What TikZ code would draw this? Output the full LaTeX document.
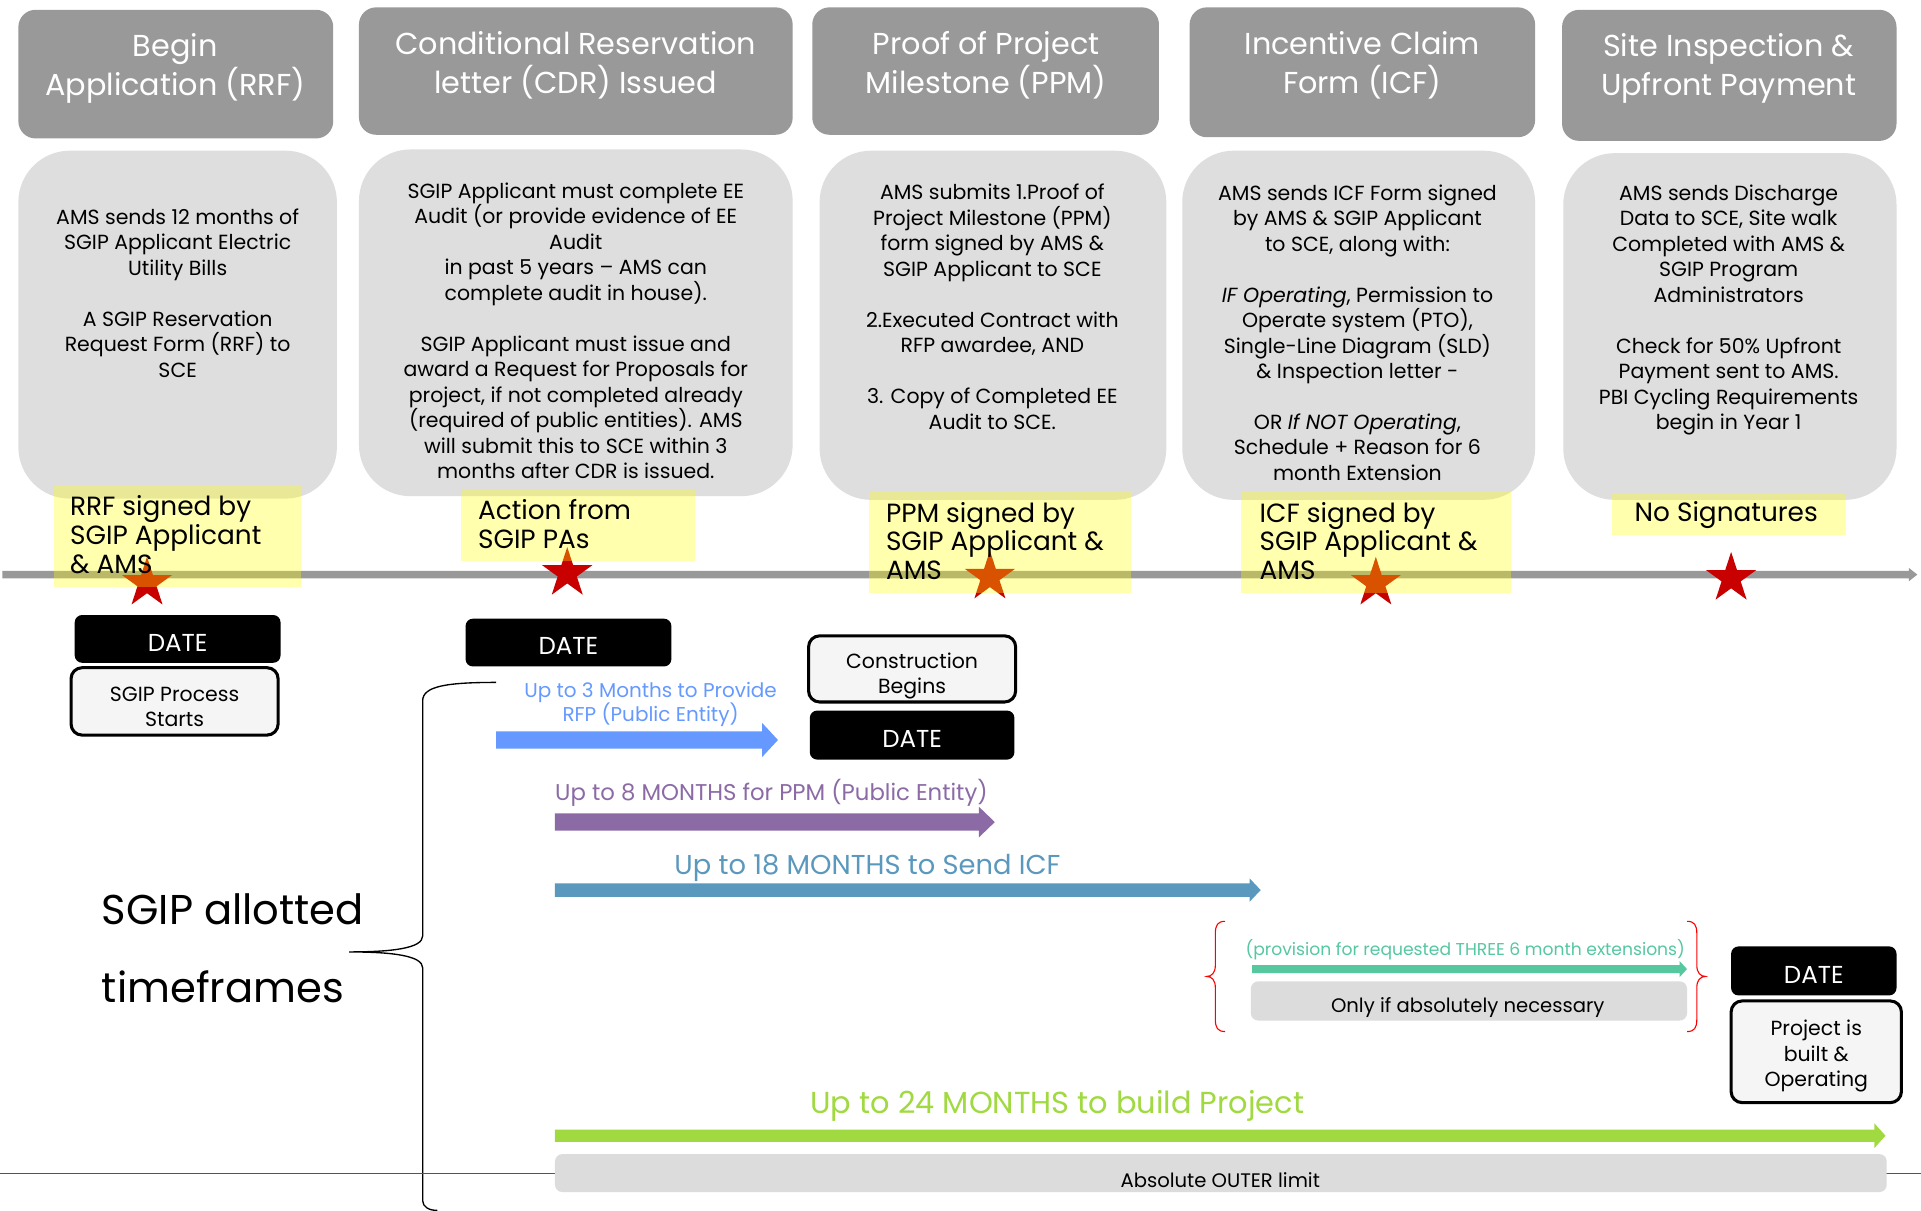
\documentclass[tikz,border=0pt]{standalone}
\usepackage{fontspec}
\setmainfont{Poppins}
\usetikzlibrary{shapes.geometric}
\definecolor{hdr}{HTML}{999999}
\definecolor{bodyg}{HTML}{DEDEDE}
\definecolor{ylw}{RGB}{255,255,0}
\definecolor{starred}{RGB}{200,0,0}
\definecolor{cblue}{HTML}{6699FF}
\definecolor{cpurple}{HTML}{8B6AA6}
\definecolor{csteel}{HTML}{5A98BD}
\definecolor{cteal}{HTML}{55C8A0}
\definecolor{cgreen}{HTML}{A0D940}
\definecolor{boxg}{HTML}{DCDCDC}
\definecolor{lineg}{HTML}{555555}
\newcommand{\barrow}[8]{%
  \fill[#2] (#3,#5-#6) coordinate (#1s) -- (#4-#8,#5-#6) -- (#4-#8,#5-#7) -- (#4,#5) coordinate (#1e) -- (#4-#8,#5+#7) -- (#4-#8,#5+#6) -- (#3,#5+#6) -- cycle;}
\begin{document}
\begin{tikzpicture}[x=1pt,y=-1pt,
  hdrbox/.style={fill=hdr, rounded corners=14pt, inner sep=0, draw=none},
  bodybox/.style={fill=bodyg, rounded corners=42pt, inner sep=0},
  hdrtxt/.style={text=white, font=\fontsize{24.7}{32}\selectfont, align=center, inner sep=0},
  bodytxt/.style={font=\fontsize{16.7}{20.8}\selectfont, align=center, inner sep=0},
  ylwbox/.style={fill=ylw, fill opacity=0.32, inner sep=0},
  yltxt/.style={font=\fontsize{21.5}{23.5}\selectfont, align=left, inner sep=0, anchor=west},
  redstar/.style={star, star points=5, star point ratio=2.618, fill=starred, minimum size=43pt, inner sep=0},
  datebox/.style={fill=black, rounded corners=6pt, text=white, font=\fontsize{20}{24}\selectfont, minimum width=168pt, minimum height=39pt, inner sep=0, text height=20pt, text depth=0pt},
  whitebox/.style={draw=black, line width=2.5pt, fill=white!96!black, rounded corners=9pt, inner sep=0},
  whitetxt/.style={font=\fontsize{16.7}{20.5}\selectfont, align=center, inner sep=0},
  graybox/.style={fill=boxg, rounded corners=6pt, inner sep=0},
  smalltxt/.style={font=\fontsize{16}{19}\selectfont, inner sep=0}
]
\useasboundingbox (0,0) rectangle (1568,988);
\fill[white] (0,0) rectangle (1568,988);

% headers
\node[hdrbox, minimum width=257pt, minimum height=105pt] (h1) at (143.5,60.5) {};
\node[hdrbox, minimum width=354pt, minimum height=104pt] (h2) at (470,58) {};
\node[hdrbox, minimum width=283pt, minimum height=104pt] (h3) at (804.5,58) {};
\node[hdrbox, minimum width=282pt, minimum height=106pt] (h4) at (1112,59) {};
\node[hdrbox, minimum width=273pt, minimum height=107pt] (h5) at (1411.5,61.5) {};
\node[hdrtxt] (h1t) at (143,56) {Begin\\Application (RRF)};
\node[hdrtxt] (h2t) at (470,53.5) {Conditional Reservation\\letter (CDR) Issued};
\node[hdrtxt] (h3t) at (805,53.5) {Proof of Project\\Milestone (PPM)};
\node[hdrtxt] (h4t) at (1112,53.5) {Incentive Claim\\Form (ICF)};
\node[hdrtxt] (h5t) at (1411,56) {Site Inspection \&\\Upfront Payment};

% body boxes
\node[bodybox, minimum width=260pt, minimum height=284pt] (b1) at (145,265) {};
\node[bodybox, minimum width=354pt, minimum height=283pt] (b2) at (470,263.5) {};
\node[bodybox, minimum width=283pt, minimum height=285pt] (b3) at (810.5,265.5) {};
\node[bodybox, minimum width=288pt, minimum height=285pt] (b4) at (1109,265.5) {};
\node[bodybox, minimum width=272pt, minimum height=283pt] (b5) at (1412,266.5) {};

\node[bodytxt] (b1t) at (145,239) {AMS sends 12 months of\\SGIP Applicant Electric\\Utility Bills\\[20.8pt]A SGIP Reservation\\Request Form (RRF) to\\SCE};
\node[bodytxt] (b2t) at (470,270) {SGIP Applicant must complete EE\\Audit (or provide evidence of EE\\Audit\\in past 5 years – AMS can\\complete audit in house).\\[20.8pt]SGIP Applicant must issue and\\award a Request for Proposals for\\project, if not completed already\\(required of public entities). AMS\\will submit this to SCE within 3\\months after CDR is issued.};
\node[bodytxt] (b3t) at (810,250.5) {AMS submits 1.Proof of\\Project Milestone (PPM)\\form signed by AMS \&\\SGIP Applicant to SCE\\[20.8pt]2.Executed Contract with\\RFP awardee, AND\\[20.8pt]3. Copy of Completed EE\\Audit to SCE.};
\node[bodytxt] (b4t) at (1108,271.5) {AMS sends ICF Form signed\\by AMS \& SGIP Applicant\\to SCE, along with:\\[20.8pt]\textit{IF Operating}, Permission to\\Operate system (PTO),\\Single-Line Diagram (SLD)\\\& Inspection letter -\\[20.8pt]OR \textit{If NOT Operating},\\Schedule + Reason for 6\\month Extension};
\node[bodytxt] (b5t) at (1411,253) {AMS sends Discharge\\Data to SCE, Site walk\\Completed with AMS \&\\SGIP Program\\Administrators\\[20.8pt]Check for 50\% Upfront\\Payment sent to AMS.\\PBI Cycling Requirements\\begin in Year 1};

% timeline
\barrow{tl}{hdr}{2}{1565}{469}{3}{5.5}{7}

% stars
\node[redstar] (s1) at (120,476) {};
\node[redstar] (s2) at (463,468) {};
\node[redstar] (s3) at (808,471) {};
\node[redstar] (s4) at (1123,476) {};
\node[redstar] (s5) at (1413,472) {};

% yellow boxes
\node[ylwbox, minimum width=202pt, minimum height=83pt] (y1) at (145,437.5) {};
\node[ylwbox, minimum width=191pt, minimum height=58pt] (y2) at (471.5,429) {};
\node[ylwbox, minimum width=214pt, minimum height=83pt] (y3) at (816,442.5) {};
\node[ylwbox, minimum width=220pt, minimum height=83pt] (y4) at (1123,442.5) {};
\node[ylwbox, minimum width=191pt, minimum height=35pt] (y5) at (1411.5,419.5) {};
\node[yltxt] (y1t) at (57,436.5) {RRF signed by\\SGIP Applicant\\\& AMS};
\node[yltxt] (y2t) at (390,428) {Action from\\SGIP PAs};
\node[yltxt] (y3t) at (723,441.5) {PPM signed by\\SGIP Applicant \&\\AMS};
\node[yltxt] (y4t) at (1028,441.5) {ICF signed by\\SGIP Applicant \&\\AMS};
\node[yltxt, anchor=center] (y5t) at (1409,420) {No Signatures};

% date and event boxes
\node[datebox] (d1) at (145,521.5) {DATE};
\node[whitebox, minimum width=169pt, minimum height=55pt] (e1) at (142.5,572.5) {};
\node[whitetxt] (e1t) at (142.5,577) {SGIP Process\\Starts};
\node[datebox] (d2) at (464,524.5) {DATE};
\node[whitebox, minimum width=169pt, minimum height=54pt] (e2) at (744.5,546) {};
\node[whitetxt] (e2t) at (744.5,552) {Construction\\Begins};
\node[datebox, minimum width=167pt, minimum height=40pt] (d3) at (744.5,600) {DATE};
\node[datebox, minimum width=135pt, minimum height=40pt] (d4) at (1480.5,792.5) {DATE};
\node[whitebox, minimum width=139pt, minimum height=83pt] (e3) at (1482.5,858.5) {};
\node[whitetxt] (e3t) at (1482.5,862) {Project is\\built \&\\Operating};

% big brace
\coordinate (bt) at (405,557);
\coordinate (bc) at (285,777);
\coordinate (bb) at (357,988);
\draw[black, line width=1.1pt] (bt) .. controls (365,557) and (345,560) .. (345,572) -- (345,764)
  .. controls (345,774) and (320,777) .. (bc) .. controls (320,777) and (345,780) .. (345,790)
  -- (345,980) .. controls (345,985) and (350,988) .. (bb);
\node[font=\fontsize{34}{64}\selectfont, align=left, inner sep=0, anchor=west] (lbl) at (83,774) {SGIP allotted\\timeframes};

% arrows
\barrow{ab}{cblue}{405}{635}{604}{7}{14}{13}
\node[font=\fontsize{16.3}{19.5}\selectfont, text=cblue, align=center, inner sep=0] (abt) at (531,575) {Up to 3 Months to Provide\\RFP (Public Entity)};
\barrow{ap}{cpurple}{453}{812}{671}{7}{12.5}{13}
\node[font=\fontsize{18.6}{20}\selectfont, text=cpurple, inner sep=0, anchor=west] (apt) at (453,647) {Up to 8 MONTHS for PPM (Public Entity)};
\barrow{as}{csteel}{453}{1029}{726.5}{5.5}{9.5}{9}
\node[font=\fontsize{22.3}{24}\selectfont, text=csteel, inner sep=0] (ast) at (708,708.5) {Up to 18 MONTHS to Send ICF};

% extensions
\coordinate (lb1) at (1000,752);
\coordinate (lb2) at (1000,842);
\coordinate (rb1) at (1377,752);
\coordinate (rb2) at (1377,842);
\draw[red, line width=0.9pt] (lb1) .. controls (994,752) and (992,755) .. (992,762) -- (992,788)
  .. controls (992,794) and (989,797) .. (985,797) .. controls (989,797) and (992,800) .. (992,806)
  -- (992,832) .. controls (992,839) and (994,842) .. (lb2);
\draw[red, line width=0.9pt] (rb1) .. controls (1383,752) and (1385,755) .. (1385,762) -- (1385,788)
  .. controls (1385,794) and (1388,797) .. (1392,797) .. controls (1388,797) and (1385,800) .. (1385,806)
  -- (1385,832) .. controls (1385,839) and (1383,842) .. (rb2);
\node[font=\fontsize{14}{16}\selectfont, text=cteal, inner sep=0] (att) at (1196,775) {(provision for requested THREE 6 month extensions)};
\barrow{at}{cteal}{1022}{1377}{791}{3.2}{6.5}{6}
\node[graybox, minimum width=356pt, minimum height=32pt] (g1) at (1199,817) {};
\node[smalltxt] (g1t) at (1198,822) {Only if absolutely necessary};

% outer limit
\coordinate (hl0) at (0,958);
\coordinate (hl1) at (1568,958);
\draw[lineg, line width=1.3pt] (hl0) -- (hl1);
\node[font=\fontsize{24.8}{28}\selectfont, text=cgreen, inner sep=0] (agt) at (863,902.5) {Up to 24 MONTHS to build Project};
\barrow{ag}{cgreen}{453}{1539}{927}{5}{10}{9}
\node[graybox, minimum width=1087pt, minimum height=31pt] (g2) at (996.5,957.5) {};
\node[smalltxt] (g2t) at (996,963) {Absolute OUTER limit};
\end{tikzpicture}
\end{document}
